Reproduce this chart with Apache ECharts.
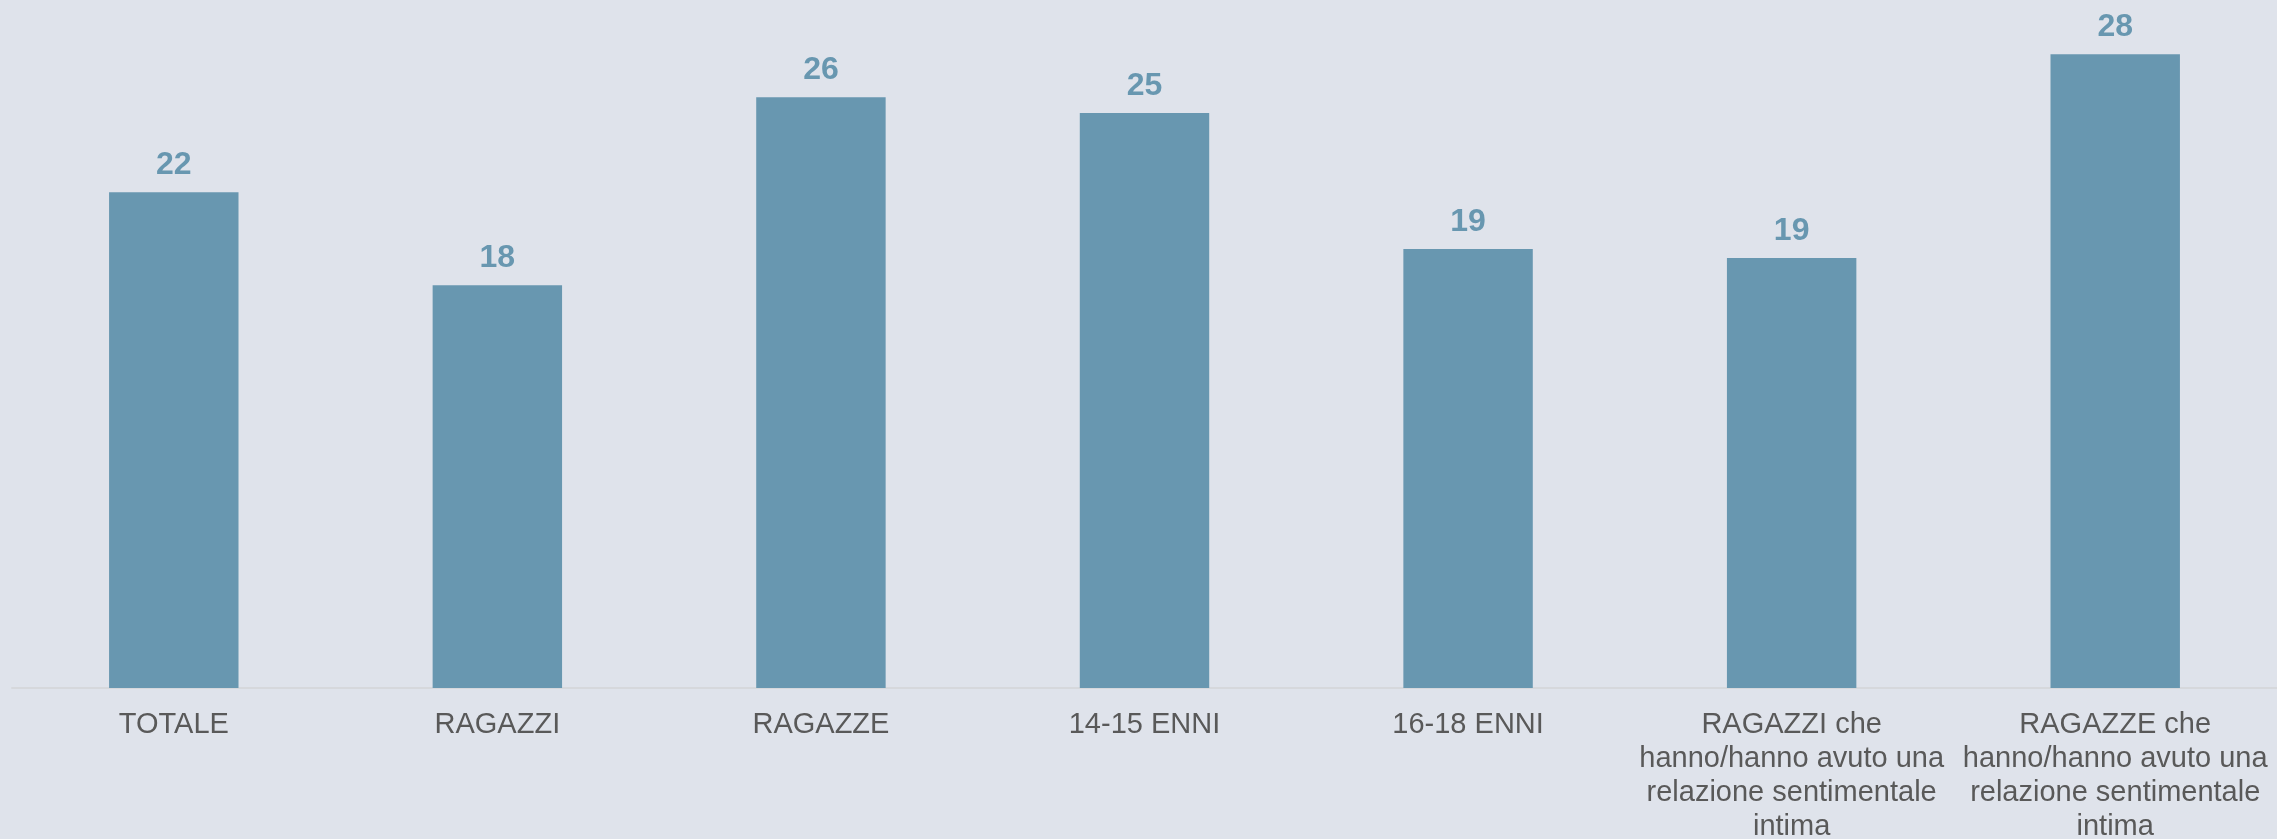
<!DOCTYPE html>
<html>
<head>
<meta charset="utf-8">
<script src="https://cdn.jsdelivr.net/npm/echarts@6/dist/echarts.min.js"></script>
<style>
  html, body { margin: 0; padding: 0; background: #dfe3eb; }
  #chart { width: 2277px; height: 839px; }
</style>
</head>
<body>
<div id="chart"></div>
<script>
// Categories (line breaks as shown under the axis)
const categories = [
  'TOTALE',
  'RAGAZZI',
  'RAGAZZE',
  '14-15 ENNI',
  '16-18 ENNI',
  'RAGAZZI che\nhanno/hanno avuto una\nrelazione sentimentale\nintima',
  'RAGAZZE che\nhanno/hanno avuto una\nrelazione sentimentale\nintima'
];

// Percentages (labels show the rounded value)
const values = [21.9, 17.8, 26.1, 25.4, 19.4, 19.0, 28.0];

const barColor = '#6897b0';
const font = '"Liberation Sans", Arial, sans-serif';

const chart = echarts.init(document.getElementById('chart'));
chart.setOption({
  backgroundColor: '#dfe3eb',
  animation: false,
  grid: {
    left: 12, right: 0, top: 9, bottom: 151,
    containLabel: false,
    outerBoundsMode: 'none'
  },
  xAxis: {
    type: 'category',
    data: categories,
    axisLine: { show: true, lineStyle: { color: '#d6d8dc', width: 2 } },
    axisTick: { show: false },
    axisLabel: {
      interval: 0,
      margin: 20,
      color: '#595959',
      fontFamily: font,
      fontSize: 29,
      lineHeight: 34
    }
  },
  yAxis: {
    type: 'value',
    min: 0,
    max: 30,
    show: false,
    splitLine: { show: false }
  },
  series: [{
    type: 'bar',
    data: values,
    barWidth: '40%',
    itemStyle: { color: barColor },
    label: {
      show: true,
      position: 'top',
      distance: 11,
      color: barColor,
      fontFamily: font,
      fontWeight: 'bold',
      fontSize: 32,
      formatter: p => Math.round(p.value)
    }
  }]
});
</script>
</body>
</html>
